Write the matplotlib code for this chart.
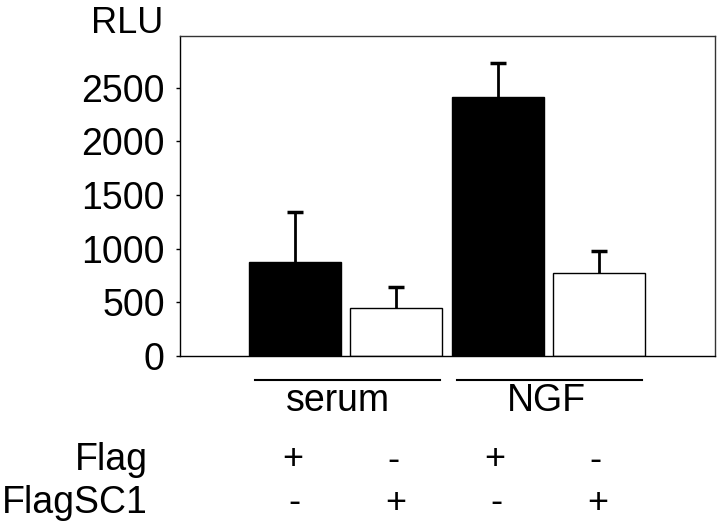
import matplotlib
matplotlib.use("Agg")
import matplotlib.pyplot as plt
import matplotlib.transforms as mtransforms

# values
means = [875, 447, 2411, 773]
errs_up = [466, 195, 317, 205]
bar_colors = ["black", "white", "black", "white"]
groups = ["serum", "NGF"]
flag_row = ["+", "-", "+", "-"]
flagsc1_row = ["-", "+", "-", "+"]
yticks = [0, 500, 1000, 1500, 2000, 2500]

plt.rcParams["font.family"] = ["Liberation Sans", "DejaVu Sans"]

fig = plt.figure(figsize=(7.2, 5.27), dpi=100)
ax = fig.add_axes([0.25, 0.3245, 0.743, 0.6072])

x = list(range(len(means)))
# error bars drawn beneath the bars so only the upper half shows
ax.errorbar(x, means, yerr=errs_up, fmt="none", ecolor="black",
            elinewidth=2, capsize=6, capthick=2.5, zorder=1)
ax.bar(x, means, width=0.91, color=bar_colors, edgecolor="black",
       linewidth=1.0, zorder=2)

ax.set_xlim(-1.14, 4.15)
ax.set_ylim(0, 2980)
ax.set_yticks(yticks)
ax.set_yticklabels([str(t) for t in yticks], fontsize=27)
ax.tick_params(axis="y", direction="out", length=3, width=1, pad=8)
ax.set_xticks([])
for s in ax.spines.values():
    s.set_linewidth(1.0)
    s.set_color("#333333")
ax.spines["left"].set_color("black")
ax.spines["bottom"].set_color("black")

fig.text(163 / 720, 1 - 33 / 527, "RLU", fontsize=26, ha="right", va="baseline")

# group lines and labels below the axes (data x, figure y)
trans = mtransforms.blended_transform_factory(ax.transData, fig.transFigure)
label_x = [0.42, 2.48]
for gi, name in enumerate(groups):
    x0 = 2 * gi - 0.4
    x1 = 2 * gi + 1.43
    ax.plot([x0, x1], [1 - 380 / 527] * 2, color="black", lw=1.5,
            transform=trans, clip_on=False)
    ax.text(label_x[gi], 1 - 411 / 527, name, fontsize=27, ha="center",
            va="baseline", transform=trans)

# treatment table
fig.text(148 / 720, 1 - 460 / 527, "Flag", fontsize=27, ha="right", va="center")
fig.text(148 / 720, 1 - 503 / 527, "FlagSC1", fontsize=27, ha="right", va="center")
for i in x:
    ax.text(i - 0.03, 1 - 460 / 527, flag_row[i], fontsize=26, ha="center",
            va="center", transform=trans)
    ax.text(i - 0.01, 1 - 503 / 527, flagsc1_row[i], fontsize=26, ha="center",
            va="center", transform=trans)

fig.savefig("out.png", dpi=100, facecolor="white")
